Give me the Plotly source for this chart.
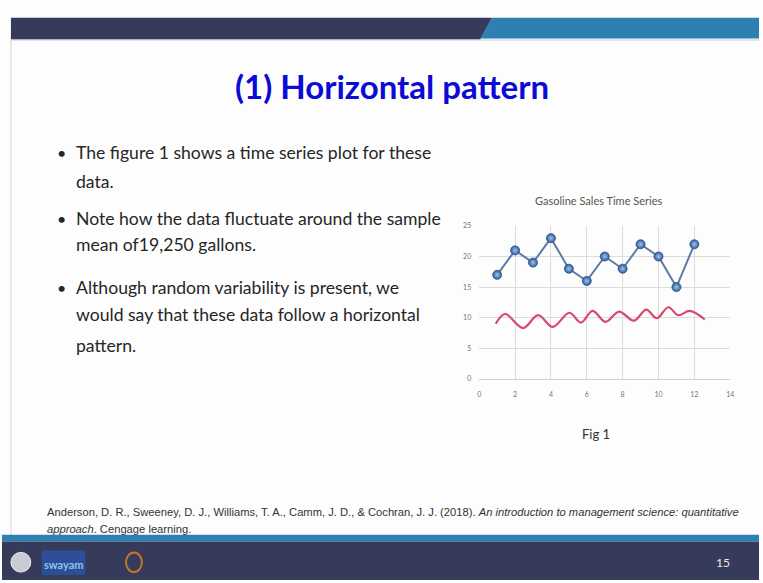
import plotly.graph_objects as go

W, H = 763, 583

# ---- data ----
weeks = [1, 2, 3, 4, 5, 6, 7, 8, 9, 10, 11, 12]
sales = [17, 21, 19, 23, 18, 16, 20, 18, 22, 20, 15, 22]

# hand-drawn red wave annotation
wave_x = [0.92, 1.44, 2.45, 3.28, 4.1, 5.03, 5.67, 6.32, 7.05, 7.8, 8.62, 9.32, 9.9, 10.55, 11.1, 11.75, 12.58]
wave_y = [9.0, 10.6, 8.3, 10.4, 8.5, 10.8, 9.2, 11.1, 9.3, 11.0, 9.5, 11.3, 9.9, 11.7, 10.4, 11.1, 9.7]

x_ticks = [0, 2, 4, 6, 8, 10, 12, 14]
y_ticks = [0, 5, 10, 15, 20, 25]

title_text = "(1) Horizontal pattern"
bullets = [
    ["The figure 1 shows a time series plot for these", "data."],
    ["Note how the data fluctuate around the sample", "mean of19,250 gallons."],
    ["Although random variability is present, we", "would say that these data follow a horizontal", "pattern."],
]
chart_title = "Gasoline Sales Time Series"
fig_caption = "Fig 1"
citation_1 = ("Anderson, D. R., Sweeney, D. J., Williams, T. A., Camm, J. D., & Cochran, J. J. (2018). "
              "<i>An introduction to management science: quantitative</i>")
citation_2 = "<i>approach</i>. Cengage learning."
page_no = "15"


def px(x):
    return x / W


def py(y):
    return 1 - y / H


fig = go.Figure()

fig.add_trace(go.Scatter(
    x=weeks, y=sales, mode="lines+markers",
    line=dict(color="#5b7ba8", width=2),
    marker=dict(size=9, color="#2f5f9e",
                gradient=dict(type="radial", color="#9fc3ec"),
                line=dict(color="#2b4d7e", width=0.8)),
    showlegend=False, hoverinfo="x+y",
))

fig.add_trace(go.Scatter(
    x=wave_x, y=wave_y, mode="lines",
    line=dict(color="#d9486c", width=2.2, shape="spline", smoothing=1.0),
    showlegend=False, hoverinfo="skip",
))

shapes = []
# top bar
shapes.append(dict(type="path", xref="paper", yref="paper",
                   path=f"M {px(9)},{py(13)} L {px(494)},{py(13)} L {px(482)},{py(35)} L {px(9)},{py(35)} Z",
                   fillcolor="#363a5b", line=dict(width=0), layer="below"))
shapes.append(dict(type="path", xref="paper", yref="paper",
                   path=f"M {px(494)},{py(13)} L {px(763)},{py(13)} L {px(763)},{py(34)} L {px(482)},{py(34)} Z",
                   fillcolor="#2f80b2", line=dict(width=0), layer="below"))
shapes.append(dict(type="line", xref="paper", yref="paper", x0=px(9), x1=1, y0=py(35.5), y1=py(35.5),
                   line=dict(color="#c9c6d6", width=1), layer="below"))
# slide left border
shapes.append(dict(type="line", xref="paper", yref="paper", x0=px(9), x1=px(9), y0=py(35), y1=py(538),
                   line=dict(color="#d8d8d8", width=1), layer="below"))
# bottom bar
shapes.append(dict(type="rect", xref="paper", yref="paper", x0=0, x1=1, y0=py(537), y1=py(544),
                   fillcolor="#2f80b2", line=dict(width=0), layer="below"))
shapes.append(dict(type="rect", xref="paper", yref="paper", x0=0, x1=1, y0=0, y1=py(544),
                   fillcolor="#363a5b", line=dict(width=0), layer="below"))
# logos (approximate)
shapes.append(dict(type="circle", xref="paper", yref="paper", x0=px(9), x1=px(29), y0=py(575), y1=py(555),
                   fillcolor="#c9ccd6", line=dict(color="#eeeeee", width=1)))
shapes.append(dict(type="rect", xref="paper", yref="paper", x0=px(40), x1=px(84), y0=py(578), y1=py(553),
                   fillcolor="#2c4f97", line=dict(width=0)))
shapes.append(dict(type="circle", xref="paper", yref="paper", x0=px(125), x1=px(141), y0=py(575), y1=py(555),
                   fillcolor="rgba(0,0,0,0)", line=dict(color="#c9732e", width=2)))

annotations = []
annotations.append(dict(text=f"<b>{title_text}</b>", xref="paper", yref="paper", x=px(393), y=py(82),
                        xanchor="center", yanchor="middle", showarrow=False,
                        font=dict(family="Lato", size=33, color="#0b0bd4")))

line_y = [[150, 179], [216, 243], [286, 314, 345]]
for blk, ys in zip(bullets, line_y):
    annotations.append(dict(text="•", xref="paper", yref="paper", x=px(53), y=py(ys[0]),
                            xanchor="left", yanchor="middle", showarrow=False,
                            font=dict(family="Lato", size=16, color="#262626")))
    for t, yy in zip(blk, ys):
        annotations.append(dict(text=t, xref="paper", yref="paper", x=px(73), y=py(yy),
                                xanchor="left", yanchor="middle", showarrow=False,
                                font=dict(family="Lato", size=17.6, color="#262626")))

annotations.append(dict(text=chart_title, xref="paper", yref="paper", x=px(601), y=py(198),
                        xanchor="center", yanchor="middle", showarrow=False,
                        font=dict(family="Lato", size=11, color="#555555")))
annotations.append(dict(text=fig_caption, xref="paper", yref="paper", x=px(599), y=py(435),
                        xanchor="center", yanchor="middle", showarrow=False,
                        font=dict(family="Lato", size=13, color="#333333")))
annotations.append(dict(text=citation_1, xref="paper", yref="paper", x=px(43), y=py(514),
                        xanchor="left", yanchor="middle", showarrow=False,
                        font=dict(family="Liberation Sans", size=11.2, color="#333333")))
annotations.append(dict(text=citation_2, xref="paper", yref="paper", x=px(43), y=py(531),
                        xanchor="left", yanchor="middle", showarrow=False,
                        font=dict(family="Liberation Sans", size=11.2, color="#333333")))
annotations.append(dict(text=page_no, xref="paper", yref="paper", x=px(727), y=py(565),
                        xanchor="center", yanchor="middle", showarrow=False,
                        font=dict(family="Lato", size=12, color="#e8e8e8")))
annotations.append(dict(text="<b>swayam</b>", xref="paper", yref="paper", x=px(62), y=py(567),
                        xanchor="center", yanchor="middle", showarrow=False,
                        font=dict(family="Lato", size=11, color="#8fc3f0")))

fig.update_layout(
    width=W, height=H,
    margin=dict(l=0, r=0, t=0, b=0),
    paper_bgcolor="#fdfdfd", plot_bgcolor="#fdfdfd",
    shapes=shapes, annotations=annotations,
    xaxis=dict(domain=[px(481), px(734)], range=[0, 14], tickvals=x_ticks,
               showgrid=True, gridcolor="#dcdcdc", gridwidth=1, zeroline=False,
               showline=True, linecolor="#cfcfcf", mirror=False,
               ticklabelstandoff=9,
               tickfont=dict(family="Lato", size=7, color="#777777"), ticks=""),
    yaxis=dict(domain=[py(379), py(224)], range=[0, 25], tickvals=y_ticks,
               showgrid=True, gridcolor="#dcdcdc", gridwidth=1, zeroline=False,
               showline=False, ticklabelstandoff=7,
               tickfont=dict(family="Lato", size=7, color="#777777"), ticks=""),
)

fig.write_html("out.html", config={"displayModeBar": False},
               post_script="document.body.style.margin='0';document.body.style.overflow='hidden';")
